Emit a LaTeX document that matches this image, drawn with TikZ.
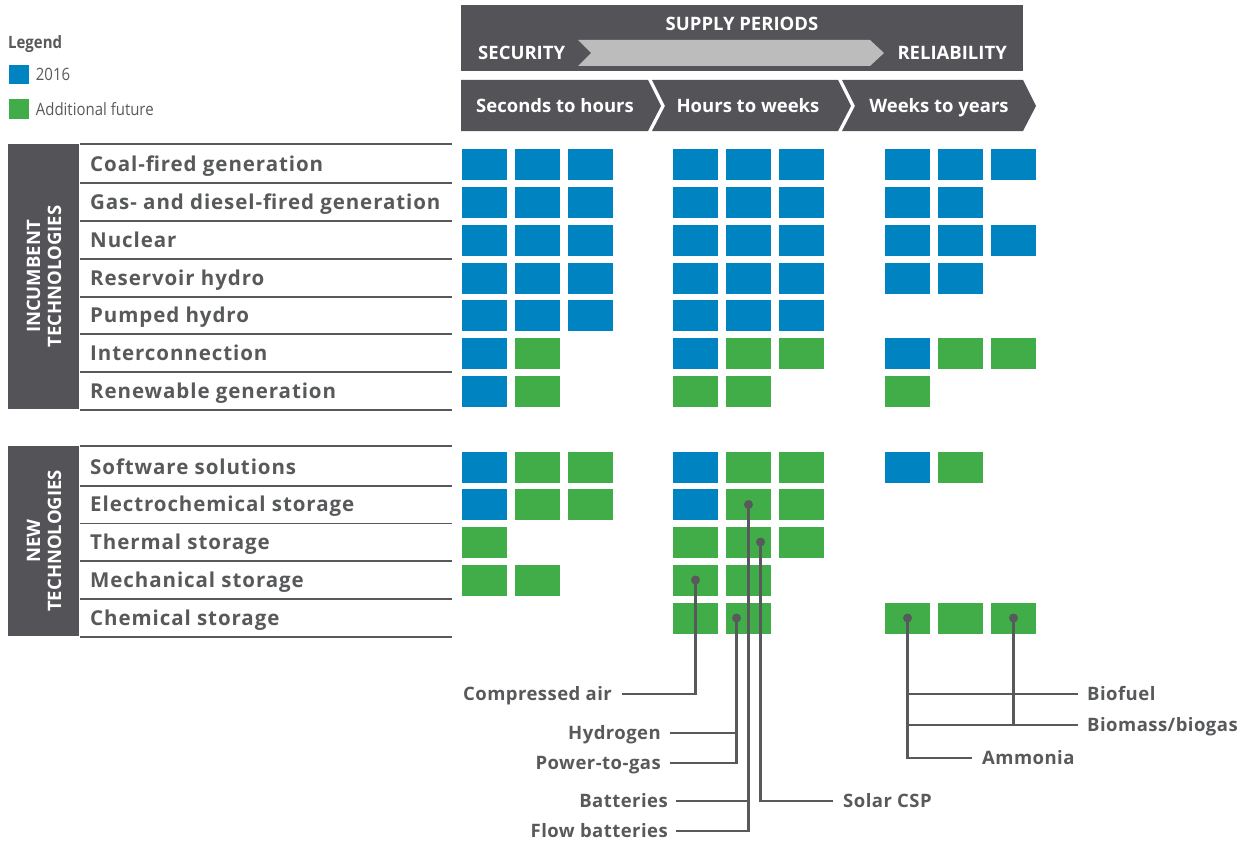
\documentclass[tikz,border=0pt]{standalone}
\usepackage{fontspec}
\setmainfont{Open Sans}
\newfontfamily\narrowfont[FakeStretch=0.88]{Open Sans}
\newfontfamily\spacedfont[LetterSpace=4.5]{Open Sans}
\newfontfamily\calloutfont[LetterSpace=2.5]{Open Sans}
\usetikzlibrary{positioning}
\usetikzlibrary{calc}

\definecolor{hdrgray}{HTML}{545358}
\definecolor{txtgray}{HTML}{58595B}
\definecolor{cellblue}{HTML}{0083C1}
\definecolor{cellgreen}{HTML}{41AD49}
\definecolor{arrowgray}{HTML}{BCBCBC}

\begin{document}
\begin{tikzpicture}[x=1pt,y=-1pt]
\tikzset{
    cell/.style = {minimum width=45pt, minimum height=31pt, inner sep=0pt},
    cellb/.style = {cell, fill=cellblue},
    cellg/.style = {cell, fill=cellgreen},
    celln/.style = {cell},
    keybox/.style = {minimum width=20pt, minimum height=19pt, inner sep=0pt},
    legtext/.style = {text=txtgray, inner sep=0pt, anchor=west, text height=12pt, text depth=0pt, font=\narrowfont\fontsize{17}{17}\selectfont},
    rowlabel/.style = {anchor=west, inner sep=0pt, text=txtgray, text height=14.6pt, text depth=0pt, font=\spacedfont\bfseries\fontsize{20.5}{21}\selectfont},
    hdrtext/.style = {text=white, inner sep=0pt, text height=13.2pt, text depth=0pt, font=\bfseries\fontsize{18.5}{19}\selectfont},
    catlabel/.style = {text=white, align=center, rotate=90, inner sep=0pt, font=\bfseries\fontsize{18.5}{21}\selectfont},
    callout/.style = {text=txtgray, inner sep=0pt, text height=13.2pt, text depth=0pt, font=\calloutfont\bfseries\fontsize{18.5}{19}\selectfont},
    leader/.style = {draw=txtgray, line width=2.4pt},
    rowline/.style = {draw=txtgray, line width=1.8pt}
}
\useasboundingbox (0,0) rectangle (1254,843);

% legend
\node[legtext, font=\bfseries\narrowfont\fontsize{17}{17}\selectfont] (legend) at (8,43) {Legend};
\node[keybox, fill=cellblue] (key16) at (18.5,75) {};
\node[legtext, right=7pt of key16] (key16txt) {2016};
\node[keybox, fill=cellgreen] (keyfut) at (18.5,109) {};
\node[legtext, right=7pt of keyfut] (keyfuttxt) {Additional future};

% header
\fill[hdrgray] (461,5) rectangle (1023,71);
\fill[arrowgray] (578,40) -- (870,40) -- (884,53) -- (870,66) -- (578,66) -- (591,53) -- cycle;
\node[hdrtext] (supply) at (742,24) {SUPPLY PERIODS};
\node[hdrtext, anchor=west] (security) at (478,53) {SECURITY};
\node[hdrtext, anchor=east] (reliability) at (1007,53) {RELIABILITY};

\fill[hdrgray] (461,80) -- (648,80) -- (661,106) -- (648,131) -- (461,131) -- cycle;
\fill[hdrgray] (652,80) -- (838,80) -- (851,106) -- (838,131) -- (652,131) -- (665,106) -- cycle;
\fill[hdrgray] (842,80) -- (1023,80) -- (1036,106) -- (1023,131) -- (842,131) -- (855,106) -- cycle;
\node[hdrtext] (short) at (555,106) {Seconds to hours};
\node[hdrtext] (medium) at (748,106) {Hours to weeks};
\node[hdrtext] (long) at (939,106) {Weeks to years};

% category boxes
\fill[hdrgray] (8,144) rectangle (79,409);
\node[catlabel] (incumbent) at (44,276.5) {INCUMBENT\\TECHNOLOGIES};
\fill[hdrgray] (8,446) rectangle (79,636);
\node[catlabel] (newtech) at (44,541) {NEW\\TECHNOLOGIES};
\draw[rowline] (80,144) -- (452,144);
\draw[rowline] (80,446) -- (452,446);

% rows and cells
\foreach \r/\ry/\lab/\pat in {
    1/164/Coal-fired generation/{b,b,b,b,b,b,b,b,b},
    2/202/Gas- and diesel-fired generation/{b,b,b,b,b,b,b,b,n},
    3/240/Nuclear/{b,b,b,b,b,b,b,b,b},
    4/278/Reservoir hydro/{b,b,b,b,b,b,b,b,n},
    5/315/Pumped hydro/{b,b,b,b,b,b,n,n,n},
    6/353/Interconnection/{b,g,n,b,g,g,b,g,g},
    7/391/Renewable generation/{b,g,n,g,g,n,g,n,n},
    8/467/Software solutions/{b,g,g,b,g,g,b,g,n},
    9/504.5/Electrochemical storage/{b,g,g,b,g,g,n,n,n},
    10/542/Thermal storage/{g,n,n,g,g,g,n,n,n},
    11/580/Mechanical storage/{g,g,n,g,g,n,n,n,n},
    12/618/Chemical storage/{n,n,n,g,g,n,g,g,g}}{
    \node[rowlabel] (l\r) at (90,\ry) {\lab};
    \draw[rowline] (80,\ry+19) -- (452,\ry+19);
    \foreach \c [count=\i] in \pat {
        \pgfmathsetmacro\cx{{484.5,537.5,590.5,695.5,748.5,801.5,907.5,960.5,1013.5}[\i-1]}
        \node[cell\c] (c\r-\i) at (\cx,\ry) {};
    }
}

% callouts
\node[callout, anchor=east] (compair) at (612,694) {Compressed air};
\node[callout, anchor=east] (hydrogen) at (661,733) {Hydrogen};
\node[callout, anchor=east] (powergas) at (661,763) {Power-to-gas};
\node[callout, anchor=east] (batteries) at (668,801) {Batteries};
\node[callout, anchor=east] (flowbat) at (668,831) {Flow batteries};
\node[callout, anchor=west] (solar) at (843,801) {Solar CSP};
\node[callout, anchor=west] (biofuel) at (1087,694) {Biofuel};
\node[callout, anchor=west] (biomass) at (1087,725) {Biomass/biogas};
\node[callout, anchor=west] (ammonia) at (982,758) {Ammonia};

\coordinate (h2dot) at ($(c12-5.center)+(-12,0)$);
\coordinate (cspdot) at ($(c10-5.center)+(12,0)$);

\draw[leader] (c11-4.center) |- ([xshift=10pt]compair.east);
\draw[leader] (h2dot) |- ([xshift=9pt]powergas.east);
\draw[leader] ([xshift=9pt]hydrogen.east) -- (hydrogen.east -| h2dot);
\draw[leader] (c9-5.center) |- ([xshift=8pt]flowbat.east);
\draw[leader] ([xshift=8pt]batteries.east) -- (batteries.east -| c9-5.center);
\draw[leader] (cspdot) |- ([xshift=-10pt]solar.west);
\draw[leader] (c12-7.center) |- ([xshift=-10pt]ammonia.west);
\draw[leader] ([xshift=-9pt]biofuel.west) -- (biofuel.west -| c12-7.center);
\draw[leader] ([xshift=-9pt]biomass.west) -- (biomass.west -| c12-7.center);
\draw[leader] (c12-9.center) -- (c12-9.center |- biomass.west);

\foreach \d in {c11-4.center, h2dot, c9-5.center, cspdot, c12-7.center, c12-9.center}
    \fill[txtgray] (\d) circle (4.5pt);
\end{tikzpicture}
\end{document}
